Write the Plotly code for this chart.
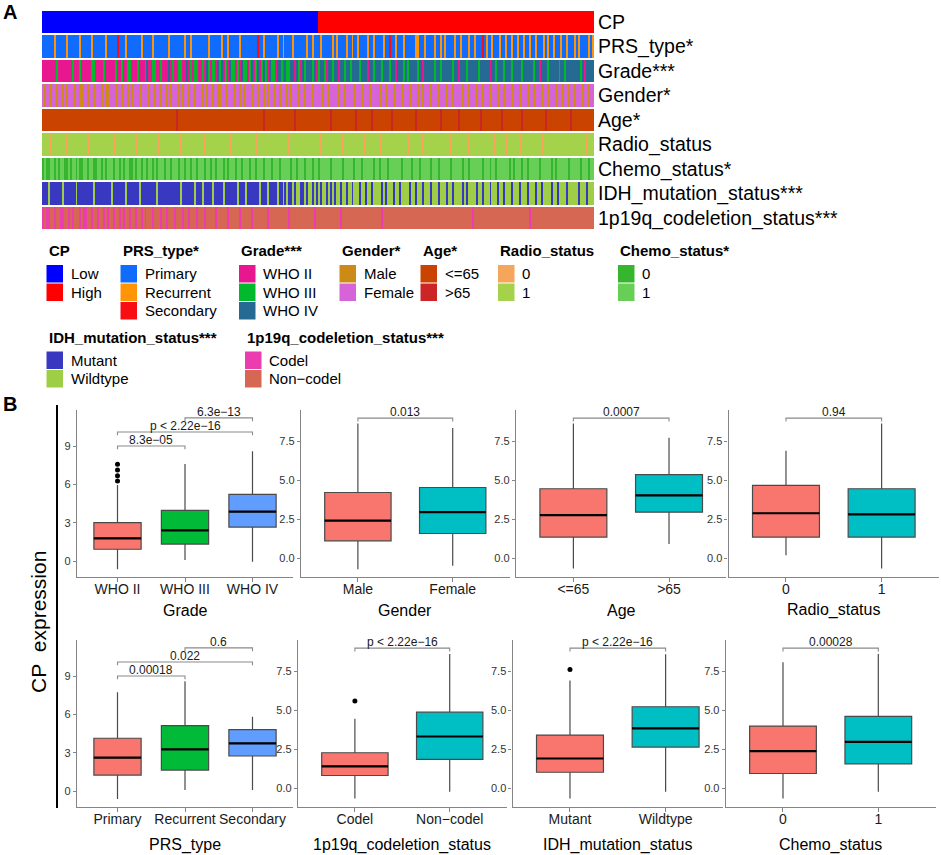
import plotly.graph_objects as go

W, H = 941, 855
FONT = "Liberation Sans, Arial, sans-serif"

# ---------------- Panel A data: annotation tracks (samples ordered by CP) ----------------
track_names = ["CP", "PRS_type*", "Grade***", "Gender*", "Age*", "Radio_status",
               "Chemo_status*", "IDH_mutation_status***", "1p19q_codeletion_status***"]

cp_cats = {"L": ("Low", "#0000FF"), "H": ("High", "#FF0000")}
prs_cats = {"P": ("Primary", "#0F6CFF"), "R": ("Recurrent", "#FF9505"), "S": ("Secondary", "#F80D12")}
grade_cats = {"2": ("WHO II", "#E8168F"), "3": ("WHO III", "#00BA2C"), "4": ("WHO IV", "#246A92")}
gender_cats = {"M": ("Male", "#CC8A16"), "F": ("Female", "#D763D8")}
age_cats = {"a": ("&lt;=65", "#CB4300"), "b": ("&gt;65", "#CC2526")}
radio_cats = {"0": ("0", "#F5A65A"), "1": ("1", "#A4D34B")}
chemo_cats = {"0": ("0", "#36B52F"), "1": ("1", "#68CF56")}
idh_cats = {"M": ("Mutant", "#3838C0"), "W": ("Wildtype", "#9DCE46")}
codel_cats = {"C": ("Codel", "#EC3DB0"), "N": ("Non\u2212codel", "#D66752")}

cp_runs = [("L", 140), ("H", 140)]
prs_track = [
    "PPPPP PRPPP PPRPP PPPPR PPPPP RPPPP PPRPP PPPSP",
    "PPRPP PPPPP RPPPP PRPPP PPPPR PPPPP PPRPP RPPPP",
    "PPPPR PPPPP PRPPR PPPPP RPPPP PPPPS PPRPP PPPPR",
    "PPRPP PPRPP PPPPR PPRPP PRPPP PPRPR PPPPR PPRPP",
    "RPPPP RPPRP PPPRP PSPPR PPPRP PPPPR RPPPR PPPPR",
    "PPRPR PPPPR PPRPP PRPPR PPPSP RPPRP PPRPP RPPRP",
    "PRPPR PPRPP RPPPR PRPPR PPPRP PRPPP RPRPP PPRPR",
]
grade_track = [
    "22222 22322 22222 32223 22222 33222 23222 22322",
    "32233 22232 22342 23322 32224 23223 32242 32332",
    "23243 23324 34232 43323 24332 34234 23432 43324",
    "43243 34424 32434 44342 34432 44344 24434 43444",
    "43444 24434 44344 43442 44434 34444 34424 44443",
    "44344 44434 42444 34444 43444 44244 34443 44434",
    "44434 44443 44244 43444 44344 34444 44434 24444",
]
gender_track = [
    "FMFFM FFMFF MFMFF FMFFM MFFMF FMFFF MFMMF FFMFF",
    "MFFMF MFFFM FFMFM FFMFF MFFMF MFFFM FMFFM FFMFF",
    "FMFMF FMFFM MFFMF FFMFF MFMFF FMFFM FFMFM FFMFF",
    "MFFFM FMFFF MFFMF FFMFF FFMFF MFFFF MFFMF FFFMF",
    "FFMFF FMFFF FMFFM FFFMF FFMFF FMFFF MFFMF FFMFF",
    "FMFFF MFFMF FFFMF FMFFF MFFMF FFMFF FMFFM FFFMF",
    "FFMFF FMFFM FFFMF FMFFF MFFFM FFMFF MFFFM FFMFF",
]
age_track = [
    "aaaaa aaaaa aaaaa aaaaa aaaaa aaaaa aaaaa aaaaa",
    "aaaaa aaaaa aaaaa aaaaa aaaaa aaaba aaaaa aaaaa",
    "aaaaa aaaaa aaaaa aaaaa aaaaa aaaaa aabaa aaaaa",
    "aaaaa aaaba aaaaa aaaaa aaaaa abaaa aaaaa aaaab",
    "aaaaa aabaa aaaaa aabaa aaaaa aaaab aaaaa aaaaa",
    "aabaa aaaaa abaaa aaaaa aabaa aaaaa aaaba aaaaa",
    "aaaba aaaaa aaaaa baaaa aaaaa aaaba aaaaa aaaaa",
]
radio_track = [
    "11110 11111 11011 11111 11101 11111 11111 10111",
    "11111 11011 11111 11110 11111 11111 01111 11111",
    "11011 11111 11111 01111 11111 11101 11111 11111",
    "11111 01111 11111 11111 10111 11111 11011 11111",
    "11101 11111 10111 11111 11111 01111 11101 11111",
    "11111 11011 11111 10111 11111 11110 11111 01111",
    "11011 11111 11101 11111 11011 11111 11111 10111",
]
chemo_track = [
    "01001 10101 10010 11010 01101 10011 01011 10110",
    "10110 01011 01101 10101 11011 01110 11011 01101",
    "11011 01101 11010 11101 10111 01101 11011 10111",
    "01111 10110 11101 11011 01111 10111 11011 11101",
    "11011 11101 10111 01111 11011 11011 10111 11011",
    "10111 11011 11101 10111 11101 11011 01111 11010",
    "11101 10111 11011 11101 01111 11011 11101 11011",
]
idh_track = [
    "MMMWM MMMMM WMMMM MMWMM MMMMM MWMMM MMMMM WMMMM",
    "MMWMM MMMMW MMMMM MMMWM MMMMM MMMMM WMMMM MMWMM",
    "MWMMM MWMMM MMWMM MMMMW MMMWM MMMMM WMMMW MMMMW",
    "MMWMW MMWMW WMMWM WWMWM WMWWM WMWMW WMWWM WWMWW",
    "WMWWM WWMWW WWMWM WWWMW WMWWW WMWWM WWWMW WWMWW",
    "WMWWW MWWMW WWWMW MWWWW MWWMW WWMWW WMWWM WWWMW",
    "WWMWW WMWWW MWWMW WWWMW WMWWW WMWWW WWMWW WMWWW",
]
codel_track = [
    "CNCCN NCNNC CNNCN CNNNC NCCNN CNNCN NCNCN NCNNC",
    "NCNNC NNCNN CNCNN NCNNN CNNCN NNCNN NCNNC NNNCN",
    "NNCNN NNNCN NNNNC NNNNN CNNNN NCNNN NNNNC NNNNN",
    "NNNNN CNNNN NNNNN NNNCN NNNNN NNNNN NCNNN NNNNN",
    "NNNNN NNNNN NNCNN NNNNN NNNNN NNNNN NNNNN NNNNN",
    "NNNNN NNNNN NNNNN NNNCN NNNNN NNNNN NNNNN NNNNN",
    "NNNNN NNCNN NNNNN NNNNN NNNNN NNNNN NNNNN NNNNN",
]

# ---------------- Panel B data: box statistics of CP expression ----------------
red, green, blue, teal = "#F8766D", "#00BA38", "#619CFF", "#00BFC4"

grade_x = ["WHO II", "WHO III", "WHO IV"]
grade_q1 = [0.92, 1.33, 2.66]; grade_med = [1.78, 2.40, 3.86]; grade_q3 = [3.00, 3.97, 5.22]
grade_lo = [-0.65, 0.08, -0.05]; grade_hi = [5.95, 7.60, 8.60]
grade_out = [[6.26, 6.68, 7.13, 7.57], [], []]
grade_p = [(1, 2, 9.0, "8.3e\u221205"), (1, 3, 10.1, "p &lt; 2.22e\u221216"), (2, 3, 11.2, "6.3e\u221213")]

gender_x = ["Male", "Female"]
gender_q1 = [1.13, 1.60]; gender_med = [2.43, 2.97]; gender_q3 = [4.23, 4.55]
gender_lo = [-0.69, -0.47]; gender_hi = [8.65, 8.37]
gender_out = [[], []]
gender_p = [(1, 2, 9.0, "0.013")]

age_x = ["&lt;=65", "&gt;65"]
age_q1 = [1.37, 2.97]; age_med = [2.78, 4.04]; age_q3 = [4.47, 5.37]
age_lo = [-0.64, 0.92]; age_hi = [8.65, 7.74]
age_out = [[], []]
age_p = [(1, 2, 9.0, "0.0007")]

radio_x = ["0", "1"]
radio_q1 = [1.37, 1.37]; radio_med = [2.90, 2.82]; radio_q3 = [4.68, 4.47]
radio_lo = [0.21, -0.64]; radio_hi = [6.90, 8.65]
radio_out = [[], []]
radio_p = [(1, 2, 9.0, "0.94")]

prs_x = ["Primary", "Recurrent", "Secondary"]
prs_q1 = [1.25, 1.64, 2.74]; prs_med = [2.61, 3.26, 3.73]; prs_q3 = [4.13, 5.12, 4.80]
prs_lo = [-0.63, 0.08, 0.08]; prs_hi = [7.73, 8.60, 5.82]
prs_out = [[], [], []]
prs_p = [(1, 2, 9.0, "0.00018"), (1, 3, 10.1, "0.022"), (2, 3, 11.2, "0.6")]

codel_x = ["Codel", "Non\u2212codel"]
codel_q1 = [0.83, 1.86]; codel_med = [1.41, 3.33]; codel_q3 = [2.29, 4.89]
codel_lo = [-0.64, -0.21]; codel_hi = [4.47, 8.63]
codel_out = [[5.60], []]
codel_p = [(1, 2, 9.0, "p &lt; 2.22e\u221216")]

idh_x = ["Mutant", "Wildtype"]
idh_q1 = [1.04, 2.65]; idh_med = [1.92, 3.85]; idh_q3 = [3.42, 5.24]
idh_lo = [-0.64, -0.21]; idh_hi = [6.92, 8.60]
idh_out = [[7.63], []]
idh_p = [(1, 2, 9.0, "p &lt; 2.22e\u221216")]

chemo_x = ["0", "1"]
chemo_q1 = [0.96, 1.58]; chemo_med = [2.39, 2.99]; chemo_q3 = [4.00, 4.62]
chemo_lo = [-0.64, -0.21]; chemo_hi = [8.10, 8.63]
chemo_out = [[], []]
chemo_p = [(1, 2, 9.0, "0.00028")]

ticks3 = [0, 3, 6, 9]
ticks25 = [0, 2.5, 5, 7.5]

# ---------------- helpers ----------------
def px(x):
    return x / W

def py(y):
    return 1 - y / H

def clean(lines):
    return "".join(lines).replace(" ", "")

fig = go.Figure()
annotations = []
shapes = []

# ---------------- Panel A heatmap ----------------
tracks = [
    ("".join(c * n for c, n in cp_runs), cp_cats),
    (clean(prs_track), prs_cats),
    (clean(grade_track), grade_cats),
    (clean(gender_track), gender_cats),
    (clean(age_track), age_cats),
    (clean(radio_track), radio_cats),
    (clean(chemo_track), chemo_cats),
    (clean(idh_track), idh_cats),
    (clean(codel_track), codel_cats),
]
palette = []
zrows = []
for seq, cats in tracks:
    keys = list(cats)
    base = len(palette)
    palette += [cats[k][1] for k in keys]
    zrows.append([base + keys.index(ch) + 0.5 for ch in seq])
n_col = len(palette)
cscale = []
for i, c in enumerate(palette):
    cscale.append([i / n_col, c])
    cscale.append([(i + 1) / n_col, c])
N = max(len(r) for r in zrows)

fig.add_trace(go.Heatmap(z=zrows, x=list(range(N)), y=list(range(len(zrows))),
                         colorscale=cscale, zmin=0, zmax=n_col, showscale=False,
                         ygap=2, hoverinfo="skip", xaxis="x", yaxis="y"))

layout_axes = dict(
    xaxis=dict(domain=[px(42), px(594)], range=[-0.5, N - 0.5], visible=False, anchor="y"),
    yaxis=dict(domain=[py(230), py(10)], range=[len(zrows) - 0.5, -0.5], side="right",
               tickvals=list(range(len(zrows))), ticktext=track_names, ticks="",
               ticklabelstandoff=3,
               showgrid=False, zeroline=False, showline=False, anchor="x",
               tickfont=dict(size=19.5, color="#000000", family=FONT)),
)

# ---------------- Panel A legends ----------------
legend_rows = [
    (251, 265, [(0, 46.5), (1, 120.5), (2, 239), (3, 339.5), (4, 420.5), (5, 498), (6, 618)]),
    (337, 351.5, [(7, 46.5), (8, 245)]),
]
SW, SH, PITCH = 16.5, 17.5, 18.5
for title_y, top_y, groups in legend_rows:
    for ti, gx in groups:
        annotations.append(dict(x=px(gx), y=py(title_y), xref="paper", yref="paper",
                                text="<b>" + track_names[ti] + "</b>", showarrow=False,
                                xanchor="left", yanchor="middle",
                                font=dict(size=15, color="#000000", family=FONT)))
        for k, (lab, col) in enumerate(tracks[ti][1].values()):
            y0 = top_y + k * PITCH
            shapes.append(dict(type="rect", xref="paper", yref="paper",
                               x0=px(gx), x1=px(gx + SW), y0=py(y0), y1=py(y0 + SH),
                               fillcolor=col, line=dict(width=0)))
            annotations.append(dict(x=px(gx + SW + 5.5), y=py(y0 + SH / 2), xref="paper",
                                    yref="paper", text=lab, showarrow=False,
                                    xanchor="left", yanchor="middle",
                                    font=dict(size=15, color="#000000", family=FONT)))

# ---------------- Panel B boxplots ----------------
panels = [
    ("Grade", grade_x, [red, green, blue], grade_q1, grade_med, grade_q3, grade_lo, grade_hi, grade_out, grade_p, ticks3),
    ("Gender", gender_x, [red, teal], gender_q1, gender_med, gender_q3, gender_lo, gender_hi, gender_out, gender_p, ticks25),
    ("Age", age_x, [red, teal], age_q1, age_med, age_q3, age_lo, age_hi, age_out, age_p, ticks25),
    ("Radio_status", radio_x, [red, teal], radio_q1, radio_med, radio_q3, radio_lo, radio_hi, radio_out, radio_p, ticks25),
    ("PRS_type", prs_x, [red, green, blue], prs_q1, prs_med, prs_q3, prs_lo, prs_hi, prs_out, prs_p, ticks3),
    ("1p19q_codeletion_status", codel_x, [red, teal], codel_q1, codel_med, codel_q3, codel_lo, codel_hi, codel_out, codel_p, ticks25),
    ("IDH_mutation_status", idh_x, [red, teal], idh_q1, idh_med, idh_q3, idh_lo, idh_hi, idh_out, idh_p, ticks25),
    ("Chemo_status", chemo_x, [red, teal], chemo_q1, chemo_med, chemo_q3, chemo_lo, chemo_hi, chemo_out, chemo_p, ticks25),
]
# pixel frames (left, right, top, bottom) and axis-title y
frames = [
    (77, 293, 410, 577, 610), (301, 509.6, 410, 577, 610), (516, 726.4, 410, 577, 610), (728.6, 939, 410, 577, 610),
    (77, 293, 640, 807, 845), (298, 506.6, 640, 807, 845), (512.6, 723, 640, 807, 845), (725.8, 935.5, 640, 807, 845),
]
AX = "#858585"
BOXW = 0.7
for k, (title, cats, cols, q1, med, q3, lo, hi, out, pv, tv) in enumerate(panels):
    ax = k + 2
    xa, ya = "x%d" % ax, "y%d" % ax
    l, r, t, b, ty = frames[k]
    if tv is ticks3:
        yr = [-1.25, 11.82]
        tfmt = "d"
    else:
        yr = [-1.19, 9.52]
        tfmt = ".1f"
    n = len(cats)
    layout_axes["xaxis%d" % ax] = dict(
        domain=[px(l), px(r)], range=[0.4, n + 0.6], anchor=ya,
        tickvals=list(range(1, n + 1)), ticktext=cats, showline=True, linecolor=AX, linewidth=1.3,
        ticks="outside", ticklen=4, tickcolor=AX, tickwidth=1.3, showgrid=False, zeroline=False,
        ticklabelstandoff=-5,
        tickfont=dict(size=14, color="#1a1a1a", family=FONT))
    layout_axes["yaxis%d" % ax] = dict(
        domain=[py(b), py(t)], range=yr, anchor=xa, tickvals=tv, tickformat=tfmt,
        showline=True, linecolor=AX, linewidth=1.3, ticks="outside", ticklen=3, tickcolor=AX,
        tickwidth=1.3, showgrid=False, zeroline=False,
        tickfont=dict(size=11, color="#333333", family=FONT))
    for i in range(n):
        pos = i + 1
        fig.add_trace(go.Box(x=[pos], q1=[q1[i]], median=[med[i]], q3=[q3[i]],
                             lowerfence=[lo[i]], upperfence=[hi[i]], width=BOXW,
                             fillcolor=cols[i], line=dict(color="#4a4a4a", width=1.2),
                             whiskerwidth=0, boxpoints=False, showlegend=False,
                             hoverinfo="skip", xaxis=xa, yaxis=ya))
        fig.add_trace(go.Scatter(x=[pos - BOXW / 2, pos + BOXW / 2], y=[med[i], med[i]],
                                 mode="lines", line=dict(color="#000000", width=2.2),
                                 showlegend=False, hoverinfo="skip", xaxis=xa, yaxis=ya))
        if out[i]:
            fig.add_trace(go.Scatter(x=[pos] * len(out[i]), y=out[i], mode="markers",
                                     marker=dict(color="#000000", size=5),
                                     showlegend=False, hoverinfo="skip", xaxis=xa, yaxis=ya))
    tick_len = (yr[1] - yr[0]) * 0.02
    for a, bb, h, lab in pv:
        fig.add_trace(go.Scatter(x=[a, a, bb, bb], y=[h - tick_len, h, h, h - tick_len],
                                 mode="lines", line=dict(color="#8a8a8a", width=1.1),
                                 showlegend=False, hoverinfo="skip", xaxis=xa, yaxis=ya))
        annotations.append(dict(x=(a + bb) / 2, y=h, xref=xa, yref=ya, text=lab,
                                showarrow=False, xanchor="center", yanchor="bottom", yshift=-3,
                                font=dict(size=12, color="#1a1a1a", family=FONT)))
    annotations.append(dict(x=px((l + r) / 2), y=py(ty), xref="paper", yref="paper", text=title,
                            showarrow=False, xanchor="center", yanchor="middle",
                            font=dict(size=16, color="#000000", family=FONT)))

# panel labels, shared y title and its bar
annotations.append(dict(x=px(9.5), y=py(12), xref="paper", yref="paper", text="<b>A</b>",
                        showarrow=False, xanchor="center", yanchor="middle",
                        font=dict(size=20, color="#000000", family=FONT)))
annotations.append(dict(x=px(9.5), y=py(404), xref="paper", yref="paper", text="<b>B</b>",
                        showarrow=False, xanchor="center", yanchor="middle",
                        font=dict(size=20, color="#000000", family=FONT)))
annotations.append(dict(x=px(38), y=py(622), xref="paper", yref="paper",
                        text="CP\u00a0\u00a0expression", textangle=-90, showarrow=False,
                        xanchor="center", yanchor="middle",
                        font=dict(size=21, color="#000000", family=FONT)))
shapes.append(dict(type="line", xref="paper", yref="paper", x0=px(57), x1=px(57),
                   y0=py(405), y1=py(808), line=dict(color="#000000", width=2)))

fig.update_layout(width=W, height=H, margin=dict(l=0, r=0, t=0, b=0),
                  paper_bgcolor="white", plot_bgcolor="white",
                  font=dict(family=FONT), showlegend=False,
                  annotations=annotations, shapes=shapes, **layout_axes)
fig.write_html("out.html", config={"displayModeBar": False},
               post_script="document.body.style.margin='0px';document.body.style.overflow='hidden';")
